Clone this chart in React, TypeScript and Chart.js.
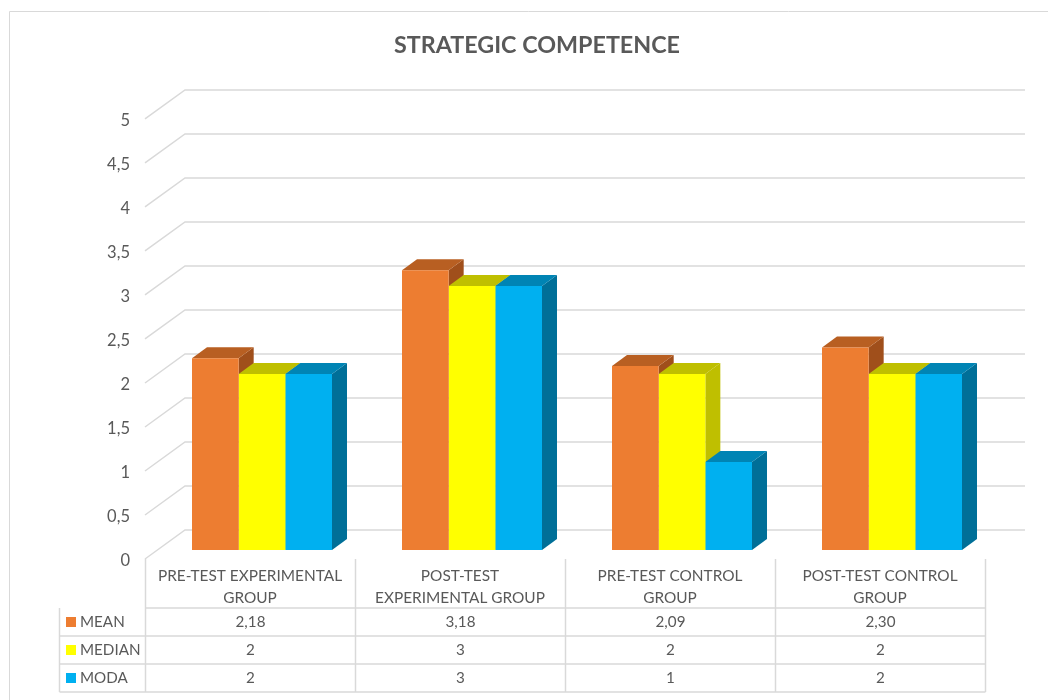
import React, { useEffect, useRef } from "react";
import { Chart, registerables } from "chart.js";

Chart.register(...registerables);

const chartTitle = "STRATEGIC COMPETENCE";
const categories = [
  ["PRE-TEST EXPERIMENTAL", "GROUP"],
  ["POST-TEST", "EXPERIMENTAL GROUP"],
  ["PRE-TEST CONTROL", "GROUP"],
  ["POST-TEST CONTROL", "GROUP"],
];
const meanValues = [2.18, 3.18, 2.09, 2.3];
const medianValues = [2, 3, 2, 2];
const modaValues = [2, 3, 1, 2];

const FONT = "Lato, 'Noto Sans', sans-serif";
const TEXT = "#595959";
const RULE = "#d9d9d9";

const seriesStyles = [
  { label: "MEAN", data: meanValues, front: "#ed7d31", top: "#b85f22", side: "#a04f1b", digits: 2 },
  { label: "MEDIAN", data: medianValues, front: "#ffff00", top: "#bfbf00", side: "#bfbf00", digits: 0 },
  { label: "MODA", data: modaValues, front: "#00b0f0", top: "#0084b4", side: "#006f98", digits: 0 },
];

// Projection offsets of the pseudo-3D box, relative to the plane of the bar faces.
const BAR_DEPTH = { x: 15, y: -11 };
const WALL_FRONT = { x: -12, y: 9 };
const WALL_BACK = { x: 28, y: -20 };

const line = (ctx: CanvasRenderingContext2D, x1: number, y1: number, x2: number, y2: number) => {
  ctx.beginPath();
  ctx.moveTo(x1, y1);
  ctx.lineTo(x2, y2);
  ctx.stroke();
};

// Outer frame plus the side and back wall gridlines.
const wallsPlugin = {
  id: "walls",
  beforeDatasetsDraw(chart: any) {
    const { ctx, chartArea, scales } = chart;
    ctx.save();
    ctx.strokeStyle = RULE;
    ctx.lineWidth = 1;
    line(ctx, 9.5, 700, 9.5, 11.5);
    line(ctx, 9.5, 11.5, 1048, 11.5);
    ctx.lineWidth = 1.5;
    scales.y.ticks.forEach((t: any) => {
      const y = scales.y.getPixelForValue(t.value);
      ctx.beginPath();
      ctx.moveTo(chartArea.left + WALL_FRONT.x, y + WALL_FRONT.y);
      ctx.lineTo(chartArea.left + WALL_BACK.x, y + WALL_BACK.y);
      ctx.lineTo(chartArea.right + WALL_BACK.x, y + WALL_BACK.y);
      ctx.stroke();
    });
    ctx.restore();
  },
};

// Top and side faces of every bar; the front faces are drawn over them by the bar elements.
const barDepthPlugin = {
  id: "barDepth",
  beforeDatasetsDraw(chart: any) {
    const { ctx } = chart;
    ctx.save();
    seriesStyles.forEach((s, i) => {
      chart.getDatasetMeta(i).data.forEach((bar: any) => {
        const left = bar.x - bar.width / 2;
        const right = bar.x + bar.width / 2;
        ctx.fillStyle = s.side;
        ctx.beginPath();
        ctx.moveTo(right, bar.y);
        ctx.lineTo(right + BAR_DEPTH.x, bar.y + BAR_DEPTH.y);
        ctx.lineTo(right + BAR_DEPTH.x, bar.base + BAR_DEPTH.y);
        ctx.lineTo(right, bar.base);
        ctx.closePath();
        ctx.fill();
        ctx.fillStyle = s.top;
        ctx.beginPath();
        ctx.moveTo(left, bar.y);
        ctx.lineTo(left + BAR_DEPTH.x, bar.y + BAR_DEPTH.y);
        ctx.lineTo(right + BAR_DEPTH.x, bar.y + BAR_DEPTH.y);
        ctx.lineTo(right, bar.y);
        ctx.closePath();
        ctx.fill();
      });
    });
    ctx.restore();
  },
};

// Data table beneath the plot, with its column rules continuing up around the category labels.
const dataTablePlugin = {
  id: "dataTable",
  afterDraw(chart: any) {
    const { ctx, chartArea } = chart;
    const tableLeft = 59.5;
    const colLeft = chartArea.left + WALL_FRONT.x + 0.5;
    const colWidth = (chartArea.right - chartArea.left) / categories.length;
    const tableRight = colLeft + colWidth * categories.length;
    const wallFoot = chartArea.bottom + WALL_FRONT.y;
    const firstRow = 608;
    const rowHeight = 28;
    const lastRow = firstRow + rowHeight * seriesStyles.length;

    ctx.save();
    ctx.strokeStyle = RULE;
    ctx.lineWidth = 1.5;
    for (let c = 0; c <= categories.length; c++) {
      const x = colLeft + colWidth * c;
      line(ctx, x, wallFoot, x, lastRow);
    }
    line(ctx, tableLeft, firstRow, tableLeft, lastRow);
    line(ctx, colLeft, firstRow, tableRight, firstRow);
    for (let r = 1; r <= seriesStyles.length; r++) {
      const y = firstRow + rowHeight * r;
      line(ctx, tableLeft, y, tableRight, y);
    }

    ctx.font = `15.2px ${FONT}`;
    ctx.fillStyle = TEXT;
    ctx.textBaseline = "middle";
    seriesStyles.forEach((s, r) => {
      const cy = firstRow + rowHeight * r + rowHeight / 2;
      ctx.fillStyle = s.front;
      ctx.fillRect(66, cy - 5, 10, 10);
      ctx.fillStyle = TEXT;
      ctx.textAlign = "left";
      ctx.fillText(s.label, 80, cy);
      ctx.textAlign = "center";
      s.data.forEach((v, c) => {
        const text = v.toFixed(s.digits).replace(".", ",");
        ctx.fillText(text, colLeft + colWidth * (c + 0.5), cy);
      });
    });
    ctx.restore();
  },
};

export default function App() {
  const canvasRef = useRef<HTMLCanvasElement | null>(null);

  useEffect(() => {
    document.body.style.margin = "0";
    const chart = new Chart(canvasRef.current as HTMLCanvasElement, {
      type: "bar",
      data: {
        labels: categories as any,
        datasets: seriesStyles.map((s) => ({
          label: s.label,
          data: s.data,
          backgroundColor: s.front,
          borderWidth: 0,
          categoryPercentage: 2 / 3,
          barPercentage: 1,
        })),
      },
      options: {
        responsive: false,
        animation: false,
        layout: { padding: { left: 77, right: 51, top: 0, bottom: 0 } },
        plugins: {
          legend: { display: false },
          tooltip: { enabled: false },
          title: {
            display: true,
            text: chartTitle,
            color: TEXT,
            font: { family: FONT, size: 23.3, weight: "bold" },
            padding: { top: 31, bottom: 51 },
          },
        },
        scales: {
          x: {
            grid: { display: false },
            border: { display: false },
            ticks: {
              autoSkip: false,
              maxRotation: 0,
              minRotation: 0,
              labelOffset: -12,
              padding: 7,
              color: TEXT,
              font: { family: FONT, size: 15.4, lineHeight: 1.43 },
            },
            afterFit: (scale: any) => {
              scale.height = 150;
            },
          },
          y: {
            min: 0,
            max: 5,
            grid: { display: false, drawTicks: false },
            border: { display: false },
            ticks: {
              stepSize: 0.5,
              labelOffset: 11,
              padding: 27,
              color: TEXT,
              font: { family: FONT, size: 16.5 },
              callback: (v: any) => String(v).replace(".", ","),
            },
            afterFit: (scale: any) => {
              scale.width = 80;
            },
          },
        },
      },
      plugins: [wallsPlugin, barDepthPlugin, dataTablePlugin],
    } as any);
    return () => chart.destroy();
  }, []);

  return <canvas ref={canvasRef} width={1048} height={700} style={{ display: "block" }} />;
}
